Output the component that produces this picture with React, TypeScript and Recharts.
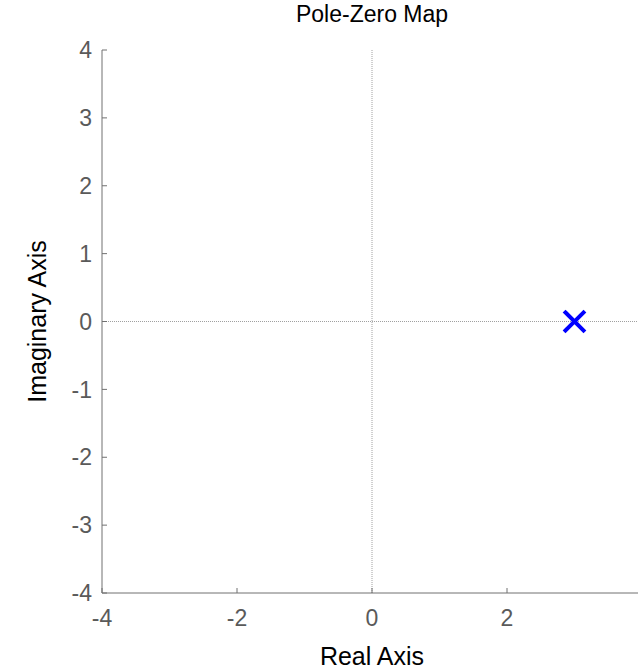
import { ScatterChart, Scatter, XAxis, YAxis, ReferenceLine } from "recharts";

const poles = [{ re: 3, im: 0 }];
const xTicks = [-4, -2, 0, 2];
const topTicks = [-4, -2, 0, 2, 4];
const yTicks = [-4, -3, -2, -1, 0, 1, 2, 3, 4];

const FONT = "'Liberation Sans', Arial, Helvetica, sans-serif";
const AXIS = "#707070";
const TICK_TXT = "#5a5a5a";

function PoleMark(props: { cx?: number; cy?: number }) {
  const { cx = 0, cy = 0 } = props;
  const r = 9;
  return (
    <g stroke="#0000ff" strokeWidth={4} strokeLinecap="square">
      <line x1={cx - r} y1={cy - r} x2={cx + r} y2={cy + r} />
      <line x1={cx - r} y1={cy + r} x2={cx + r} y2={cy - r} />
    </g>
  );
}

export default function App() {
  const tickStyle = { fill: TICK_TXT, fontSize: 23, fontFamily: FONT };
  return (
    <div style={{ position: "absolute", left: 0, top: 0, width: 638, height: 672, overflow: "hidden", background: "#fff" }}>
      <div
        style={{
          position: "absolute",
          left: 372,
          top: 1,
          transform: "translateX(-50%)",
          fontFamily: FONT,
          fontSize: 23,
          color: "#000",
          whiteSpace: "nowrap",
        }}
      >
        Pole-Zero Map
      </div>
      <ScatterChart width={680} height={672} margin={{ top: 50, right: 38, bottom: 0, left: 0 }}>
        <XAxis
          xAxisId="top"
          orientation="top"
          type="number"
          dataKey="re"
          domain={[-4, 4]}
          ticks={topTicks}
          height={0}
          tick={false}
          tickSize={-5}
          stroke={AXIS}
          allowDataOverflow
        />
        <XAxis
          type="number"
          dataKey="re"
          domain={[-4, 4]}
          ticks={xTicks}
          height={79}
          tickSize={-5}
          tickMargin={22}
          tick={tickStyle}
          stroke={AXIS}
          allowDataOverflow
          label={{
            content: ({ viewBox }: any) => (
              <text
                x={viewBox.x + viewBox.width / 2}
                y={665}
                textAnchor="middle"
                fontSize={25}
                fontFamily={FONT}
                fill="#000"
              >
                Real Axis
              </text>
            ),
          }}
        />
        <YAxis
          type="number"
          dataKey="im"
          domain={[-4, 4]}
          ticks={yTicks}
          width={102}
          tickSize={-5}
          tickMargin={15}
          tick={tickStyle}
          stroke={AXIS}
          allowDataOverflow
          label={{
            content: ({ viewBox }: any) => {
              const cx = 46;
              const cy = viewBox.y + viewBox.height / 2;
              return (
                <text
                  x={cx}
                  y={cy}
                  transform={`rotate(-90, ${cx}, ${cy})`}
                  textAnchor="middle"
                  fontSize={25}
                  fontFamily={FONT}
                  fill="#000"
                >
                  Imaginary Axis
                </text>
              );
            },
          }}
        />
        <ReferenceLine x={0} stroke="#a0a0a0" strokeDasharray="1 1" strokeWidth={1} />
        <ReferenceLine y={0} stroke="#a0a0a0" strokeDasharray="1 1" strokeWidth={1} />
        <Scatter data={poles} fill="#0000ff" shape={<PoleMark />} isAnimationActive={false} />
      </ScatterChart>
    </div>
  );
}
